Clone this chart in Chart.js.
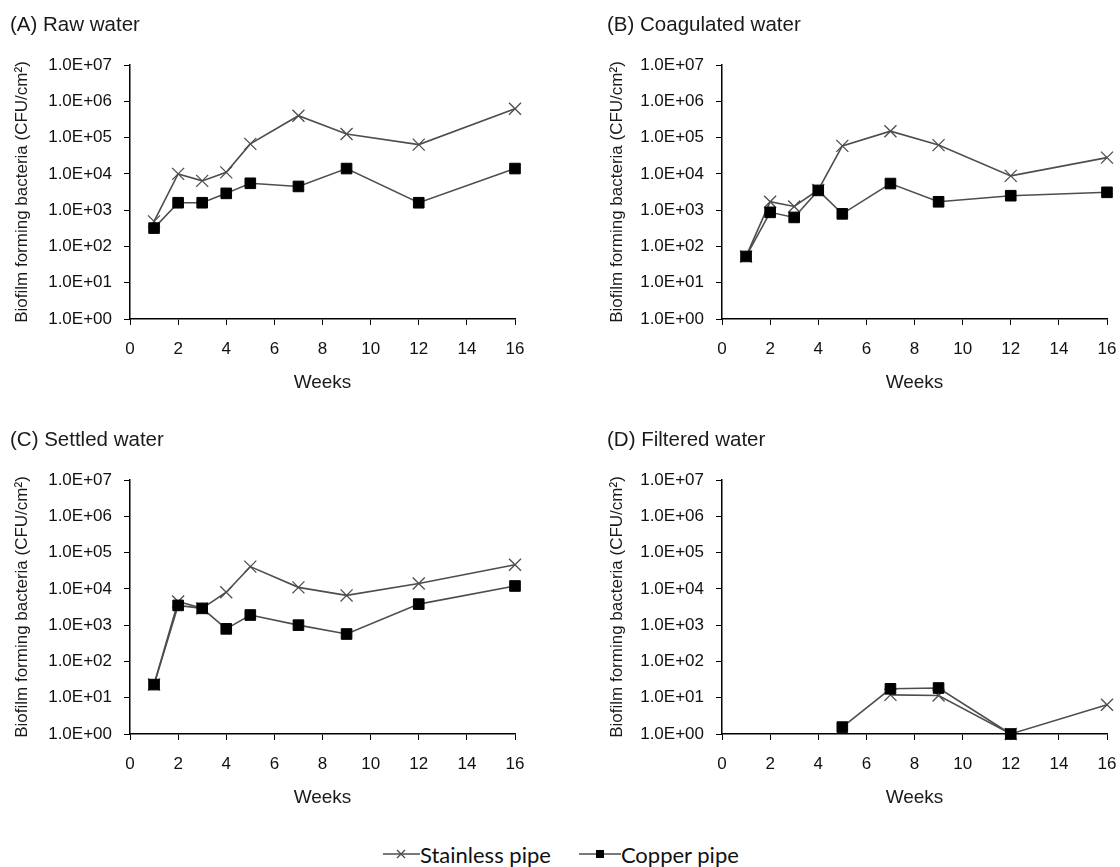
<!DOCTYPE html>
<html>
<head>
<meta charset="utf-8">
<script src="https://cdn.jsdelivr.net/npm/chart.js@4/dist/chart.umd.min.js"></script>
<style>
  html, body { margin:0; padding:0; background:#fff; }
  body { width:1120px; height:867px; position:relative; overflow:hidden; }
  canvas { position:absolute; }
  #legend { position:absolute; left:383px; top:839px; height:30px; display:flex; align-items:center;
            font-family: Lato, "Open Sans", sans-serif; font-size:22px; color:#111; white-space:nowrap; }
  #legend .item { display:flex; align-items:center; }
  #legend svg { display:block; }
</style>
</head>
<body>
<canvas id="cA" width="550" height="410" style="left:10px;top:0px;"></canvas>
<canvas id="cB" width="513" height="410" style="left:607px;top:0px;"></canvas>
<canvas id="cC" width="550" height="410" style="left:10px;top:415px;"></canvas>
<canvas id="cD" width="513" height="410" style="left:607px;top:415px;"></canvas>
<div id="legend">
  <div class="item">
    <svg width="37" height="20"><line x1="0" y1="10" x2="37" y2="10" stroke="#4d4d4d" stroke-width="1.6"/>
      <line x1="14" y1="6" x2="22" y2="14" stroke="#4d4d4d" stroke-width="1.3"/><line x1="22" y1="6" x2="14" y2="14" stroke="#4d4d4d" stroke-width="1.3"/></svg>
    <span>Stainless pipe</span>
  </div>
  <div class="item" style="margin-left:28px;">
    <svg width="42" height="20"><line x1="0" y1="10" x2="42" y2="10" stroke="#4d4d4d" stroke-width="1.6"/>
      <rect x="17" y="6" width="8" height="8" fill="#000"/></svg>
    <span>Copper pipe</span>
  </div>
</div>
<script>
// ---- data ----
const weeks = [1, 2, 3, 4, 5, 7, 9, 12, 16];
const rawStainless   = [490, 1.0e4, 6.4e3, 1.1e4, 6.7e4, 4.0e5, 1.26e5, 6.4e4, 6.2e5];
const rawCopper      = [320, 1.6e3, 1.6e3, 2.9e3, 5.5e3, 4.5e3, 1.4e4, 1.6e3, 1.4e4];
const coagStainless  = [53, 1.7e3, 1.26e3, 3.6e3, 5.9e4, 1.5e5, 6.2e4, 8.8e3, 2.8e4];
const coagCopper     = [53, 870, 630, 3.5e3, 790, 5.4e3, 1.7e3, 2.5e3, 3.1e3];
const settStainless  = [23, 4.5e3, 2.9e3, 8.1e3, 4.1e4, 1.1e4, 6.6e3, 1.4e4, 4.6e4];
const settCopper     = [23, 3.5e3, 2.9e3, 790, 1.9e3, 1.0e3, 570, 3.8e3, 1.2e4];
const filtStainless  = [null, null, null, null, null, 12, 11.5, 1, 6.4];
const filtCopper     = [null, null, null, null, 1.55, 17.6, 18.5, 1, null];
const yTickValues = [1, 10, 100, 1e3, 1e4, 1e5, 1e6, 1e7];
const panelTitles = ['(A) Raw water', '(B) Coagulated water', '(C) Settled water', '(D) Filtered water'];
const seriesNames = ['Stainless pipe', 'Copper pipe'];
const yTitle = 'Biofilm forming bacteria (CFU/cm\u00B2)';
const xTitle = 'Weeks';

// ---- rendering ----
Chart.defaults.font.family = '"Liberation Sans", Arial, sans-serif';
Chart.defaults.color = '#111';

function fmtExp(v) {
  const e = Math.round(Math.log10(v));
  return '1.0E+' + String(e).padStart(2, '0');
}

function pts(vals) {
  return weeks.map((w, i) => ({ x: w, y: vals[i] }));
}

function makeChart(id, title, stainless, copper, yWidth, rightPad, yTitlePad) {
  return new Chart(document.getElementById(id), {
    type: 'line',
    data: {
      datasets: [
        {
          label: seriesNames[0], data: pts(stainless),
          borderColor: '#4d4d4d', borderWidth: 1.6, backgroundColor: 'transparent',
          pointStyle: 'crossRot', pointRadius: 8.5, pointBorderColor: '#4d4d4d', pointBorderWidth: 1.3,
          order: 2, clip: false, tension: 0
        },
        {
          label: seriesNames[1], data: pts(copper),
          borderColor: '#4d4d4d', borderWidth: 1.6, backgroundColor: '#000',
          pointStyle: 'rect', pointRadius: 7.5, pointBackgroundColor: '#000', pointBorderColor: '#000', pointBorderWidth: 1,
          order: 1, clip: false, tension: 0
        }
      ]
    },
    options: {
      responsive: false, animation: false, devicePixelRatio: 1,
      layout: { padding: { left: 0, right: rightPad, top: 0, bottom: 0 } },
      plugins: {
        legend: { display: false },
        tooltip: { enabled: false },
        title: {
          display: true, text: title, align: 'start', color: '#1a1a1a',
          font: { size: 20.5, weight: 'normal' }, padding: { top: 13, bottom: 27.4 }
        }
      },
      scales: {
        x: {
          type: 'linear', min: 0, max: 16,
          ticks: { stepSize: 2, font: { size: 17 }, padding: 14.5, color: '#111' },
          grid: { drawOnChartArea: false, drawTicks: true, tickLength: 6, color: '#000', lineWidth: 1 },
          border: { display: true, color: '#000', width: 1.5 },
          title: { display: true, text: xTitle, font: { size: 19 }, color: '#1a1a1a', padding: { top: 0, bottom: 15.6 } },
          afterFit: s => { s.height = 91; s.paddingLeft = 0; s.paddingRight = 0; }
        },
        y: {
          type: 'logarithmic', min: 1, max: 1e7,
          afterBuildTicks: s => { s.ticks = yTickValues.map(v => ({ value: v })); },
          ticks: { callback: v => fmtExp(v), font: { size: 17 }, padding: 12, color: '#111', autoSkip: false },
          grid: { drawOnChartArea: false, drawTicks: true, tickLength: 6, color: '#000', lineWidth: 1 },
          border: { display: true, color: '#000', width: 1.5 },
          title: { display: true, text: yTitle, font: { size: 17 }, color: '#1a1a1a', padding: { top: yTitlePad, bottom: 0 } },
          afterFit: s => { s.width = yWidth; }
        }
      }
    }
  });
}

makeChart('cA', panelTitles[0], rawStainless, rawCopper, 120, 45, 1.8);
makeChart('cB', panelTitles[1], coagStainless, coagCopper, 115, 13, 0);
makeChart('cC', panelTitles[2], settStainless, settCopper, 120, 45, 1.8);
makeChart('cD', panelTitles[3], filtStainless, filtCopper, 115, 13, 0);
</script>
</body>
</html>
